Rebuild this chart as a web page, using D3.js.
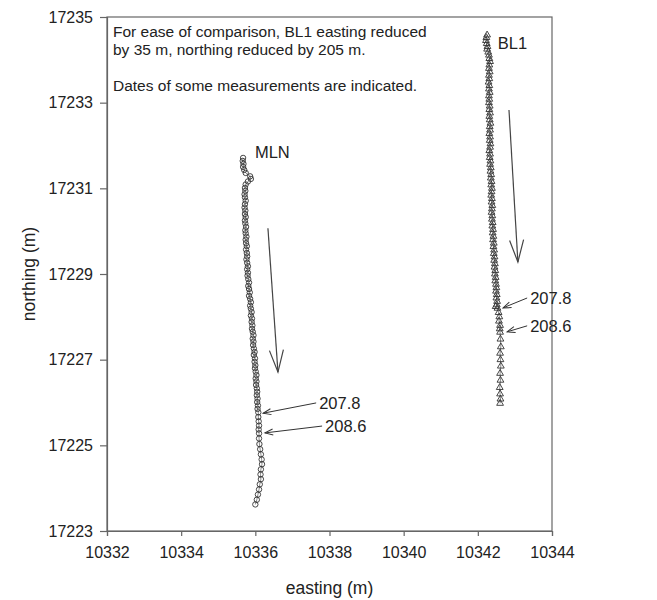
<!DOCTYPE html>
<html>
<head>
	<meta charset="utf-8">
	<title>MLN and BL1 track</title>
	<script src="https://cdn.jsdelivr.net/npm/d3@7"></script>
</head>
<body style="margin:0">
<style>

body { background: #fff; }

text {
  font-family: "Liberation Sans", Arial, sans-serif;
  fill: #222;
}

.axis path, .axis line {
  stroke: #666;
  stroke-width: 1.2px;
}

.axis text {
  font-size: 16px;
  fill: #222;
}

.frame {
  fill: none;
  stroke: #666;
  stroke-width: 1.2px;
}

.track {
  fill: none;
  stroke: #555;
  stroke-width: 0.7px;
}

.mark {
  fill: none;
  stroke: #333;
  stroke-width: 0.9px;
}

</style>
<svg width="657" height="600"></svg>
<script>

// easting / northing of each survey of MLN (m)
var mlnEasting = [
  10335.67, 10335.66, 10335.68, 10335.67, 10335.70, 10335.74, 10335.86, 10335.88, 10335.80, 10335.74,
  10335.72, 10335.73, 10335.71, 10335.72, 10335.74, 10335.72, 10335.71, 10335.73, 10335.72, 10335.74,
  10335.72, 10335.73, 10335.75, 10335.73, 10335.74, 10335.76, 10335.74, 10335.75, 10335.77, 10335.75,
  10335.77, 10335.78, 10335.76, 10335.78, 10335.80, 10335.78, 10335.80, 10335.79, 10335.81, 10335.83,
  10335.81, 10335.83, 10335.85, 10335.83, 10335.86, 10335.88, 10335.86, 10335.88, 10335.90, 10335.88,
  10335.91, 10335.90, 10335.92, 10335.91, 10335.93, 10335.95, 10335.93, 10335.95, 10335.94, 10335.96,
  10335.98, 10335.96, 10335.99, 10335.98, 10336.00, 10335.99, 10336.01, 10336.03, 10336.01, 10336.03,
  10336.02, 10336.04, 10336.05, 10336.04, 10336.06, 10336.05, 10336.07, 10336.06, 10336.08, 10336.08,
  10336.09, 10336.10, 10336.09, 10336.10, 10336.10, 10336.11, 10336.13, 10336.15, 10336.17, 10336.18,
  10336.15, 10336.14, 10336.15, 10336.12, 10336.10, 10336.07, 10336.04, 10336.00
];
var mlnNorthing = [
  17231.71, 17231.64, 17231.57, 17231.50, 17231.43, 17231.36, 17231.28, 17231.22, 17231.16, 17231.09,
  17231.01, 17230.94, 17230.86, 17230.79, 17230.71, 17230.63, 17230.55, 17230.48, 17230.40, 17230.33,
  17230.25, 17230.18, 17230.10, 17230.02, 17229.95, 17229.87, 17229.80, 17229.72, 17229.65, 17229.57,
  17229.49, 17229.41, 17229.34, 17229.26, 17229.18, 17229.11, 17229.03, 17228.96, 17228.88, 17228.80,
  17228.72, 17228.65, 17228.57, 17228.49, 17228.42, 17228.34, 17228.26, 17228.19, 17228.11, 17228.03,
  17227.96, 17227.88, 17227.80, 17227.72, 17227.65, 17227.57, 17227.49, 17227.42, 17227.34, 17227.26,
  17227.18, 17227.11, 17227.03, 17226.95, 17226.87, 17226.80, 17226.72, 17226.64, 17226.56, 17226.49,
  17226.41, 17226.33, 17226.25, 17226.17, 17226.09, 17226.01, 17225.93, 17225.85, 17225.77, 17225.66,
  17225.56, 17225.46, 17225.37, 17225.28, 17225.16, 17225.03, 17224.91, 17224.79, 17224.67, 17224.56,
  17224.44, 17224.32, 17224.21, 17224.09, 17223.97, 17223.85, 17223.73, 17223.62
];

// BL1, already shifted by -35 m easting and -205 m northing
var bl1Easting = [
  10342.25, 10342.23, 10342.22, 10342.24, 10342.26, 10342.25, 10342.28, 10342.30, 10342.31, 10342.33,
  10342.31, 10342.30, 10342.32, 10342.30, 10342.31, 10342.29, 10342.31, 10342.30, 10342.32, 10342.30,
  10342.31, 10342.30, 10342.32, 10342.31, 10342.33, 10342.31, 10342.32, 10342.34, 10342.32, 10342.33,
  10342.31, 10342.33, 10342.32, 10342.34, 10342.33, 10342.31, 10342.33, 10342.32, 10342.34, 10342.33,
  10342.35, 10342.34, 10342.36, 10342.35, 10342.37, 10342.36, 10342.38, 10342.37, 10342.36, 10342.38,
  10342.37, 10342.39, 10342.38, 10342.37, 10342.39, 10342.38, 10342.40, 10342.39, 10342.41, 10342.40,
  10342.42, 10342.41, 10342.43, 10342.42, 10342.44, 10342.43, 10342.45, 10342.44, 10342.46, 10342.45,
  10342.47, 10342.46, 10342.48, 10342.47, 10342.49, 10342.50, 10342.49, 10342.51, 10342.50, 10342.52,
  10342.51, 10342.48, 10342.53, 10342.56, 10342.58, 10342.57, 10342.60, 10342.59, 10342.60, 10342.61,
  10342.62, 10342.60, 10342.61, 10342.62, 10342.60, 10342.61, 10342.59, 10342.60, 10342.61, 10342.60
];
var bl1Northing = [
  17234.58, 17234.52, 17234.45, 17234.38, 17234.31, 17234.25, 17234.18, 17234.11, 17234.03, 17233.96,
  17233.88, 17233.80, 17233.72, 17233.64, 17233.56, 17233.48, 17233.40, 17233.32, 17233.24, 17233.16,
  17233.08, 17233.00, 17232.92, 17232.84, 17232.76, 17232.68, 17232.60, 17232.52, 17232.44, 17232.36,
  17232.28, 17232.20, 17232.12, 17232.04, 17231.96, 17231.88, 17231.80, 17231.72, 17231.64, 17231.56,
  17231.48, 17231.40, 17231.32, 17231.24, 17231.16, 17231.08, 17231.00, 17230.92, 17230.84, 17230.76,
  17230.68, 17230.60, 17230.52, 17230.44, 17230.36, 17230.28, 17230.20, 17230.12, 17230.04, 17229.96,
  17229.88, 17229.80, 17229.72, 17229.64, 17229.56, 17229.48, 17229.40, 17229.32, 17229.24, 17229.16,
  17229.08, 17229.00, 17228.92, 17228.84, 17228.76, 17228.68, 17228.60, 17228.52, 17228.44, 17228.36,
  17228.28, 17228.24, 17228.20, 17228.10, 17228.00, 17227.90, 17227.80, 17227.72, 17227.64, 17227.48,
  17227.30, 17227.15, 17227.00, 17226.85, 17226.68, 17226.52, 17226.35, 17226.20, 17226.08, 17225.98
];

var xTicks = [10332, 10334, 10336, 10338, 10340, 10342, 10344];
var yTicks = [17223, 17225, 17227, 17229, 17231, 17233, 17235];

// dated measurements: label, where the text sits, which point it marks
var dateLabels = ["207.8", "208.6", "207.8", "208.6"];
var dateTextE = [10337.64, 10337.80, 10343.33, 10343.33];
var dateTextN = [17225.99, 17225.45, 17228.44, 17227.79];
var dateTipE  = [10336.21, 10336.26, 10342.68, 10342.79];
var dateTipN  = [17225.75, 17225.29, 17228.21, 17227.65];

// direction-of-motion arrows (start easting, start northing, end easting, end northing)
var motionArrows = [
  [10336.34, 17230.07, 10336.61, 17226.71],
  [10342.84, 17232.83, 10343.08, 17229.28]
];

var siteNames = ["MLN", "BL1"];
var siteNameE = [10335.99, 10342.54];
var siteNameN = [17231.71, 17234.25];

var noteLines = [
  "For ease of comparison, BL1 easting reduced",
  "by 35 m, northing reduced by 205 m.",
  "Dates of some measurements are indicated."
];
var noteBaselines = [37, 55, 91];

var svg = d3.select("svg"),
	margin = {top: 17, right: 105, bottom: 69, left: 107},
	width = +svg.attr("width") - margin.left - margin.right,
	height = +svg.attr("height") - margin.top - margin.bottom;

var g = svg.append("g")
	.attr("transform", "translate(" + margin.left + "," + margin.top + ")");

var x = d3.scaleLinear().domain([10332, 10344]).range([0, width]);
var y = d3.scaleLinear().domain([17223, 17235]).range([height, 0]);

var defs = svg.append("defs");
defs.append("marker")
	.attr("id", "bigHead")
	.attr("markerUnits", "userSpaceOnUse")
	.attr("viewBox", "-24 -9 26 18")
	.attr("refX", 0).attr("refY", 0)
	.attr("markerWidth", 26).attr("markerHeight", 18)
	.attr("orient", "auto")
  .append("path")
	.attr("d", "M-22,-7L0,0L-22,7")
	.attr("fill", "none")
	.attr("stroke", "#444")
	.attr("stroke-width", 1.2);
defs.append("marker")
	.attr("id", "smallHead")
	.attr("markerUnits", "userSpaceOnUse")
	.attr("viewBox", "-10 -5 12 10")
	.attr("refX", 0).attr("refY", 0)
	.attr("markerWidth", 12).attr("markerHeight", 10)
	.attr("orient", "auto")
  .append("path")
	.attr("d", "M-8,-3L0,0L-8,3")
	.attr("fill", "none")
	.attr("stroke", "#333")
	.attr("stroke-width", 1);

// frame
g.append("rect")
	.attr("class", "frame")
	.attr("width", width)
	.attr("height", height);

g.append("g")
	.attr("class", "axis")
	.attr("transform", "translate(0," + height + ")")
	.call(d3.axisBottom(x).tickValues(xTicks).tickFormat(d3.format("d")).tickSizeOuter(0).tickSize(5).tickPadding(11));

g.append("g")
	.attr("class", "axis")
	.call(d3.axisLeft(y).tickValues(yTicks).tickFormat(d3.format("d")).tickSizeOuter(0).tickSize(7).tickPadding(7));

g.selectAll(".axis text").attr("fill", "#222");

svg.append("text")
	.attr("x", margin.left + width / 2)
	.attr("y", 594)
	.attr("text-anchor", "middle")
	.style("font-size", "17.5px")
	.text("easting (m)");

svg.append("text")
	.attr("transform", "translate(35," + (margin.top + height / 2) + ") rotate(-90)")
	.attr("text-anchor", "middle")
	.style("font-size", "17.5px")
	.text("northing (m)");

// tracks
var mln = mlnEasting.map(function(e, i) { return [e, mlnNorthing[i]]; });
var bl1 = bl1Easting.map(function(e, i) { return [e, bl1Northing[i]]; });

var line = d3.line()
	.x(function(d) { return x(d[0]); })
	.y(function(d) { return y(d[1]); });

g.append("path").attr("class", "track").attr("d", line(mln));
g.append("path").attr("class", "track").attr("d", line(bl1));

g.append("g").selectAll("circle")
	.data(mln)
	.enter().append("circle")
	  .attr("class", "mark")
	  .attr("r", 2.7)
	  .attr("cx", function(d) { return x(d[0]); })
	  .attr("cy", function(d) { return y(d[1]); });

var tri = d3.symbol().type(d3.symbolTriangle).size(20);
g.append("g").selectAll("path")
	.data(bl1)
	.enter().append("path")
	  .attr("class", "mark")
	  .attr("d", tri)
	  .attr("transform", function(d) { return "translate(" + x(d[0]) + "," + y(d[1]) + ")"; });

// motion arrows
g.append("g").selectAll("line")
	.data(motionArrows)
	.enter().append("line")
	  .attr("x1", function(d) { return x(d[0]); })
	  .attr("y1", function(d) { return y(d[1]); })
	  .attr("x2", function(d) { return x(d[2]); })
	  .attr("y2", function(d) { return y(d[3]); })
	  .attr("stroke", "#444")
	  .attr("stroke-width", 1.2)
	  .attr("marker-end", "url(#bigHead)");

// date pointers
dateLabels.forEach(function(lab, i) {
  g.append("line")
	.attr("x1", x(dateTextE[i]))
	.attr("y1", y(dateTextN[i]))
	.attr("x2", x(dateTipE[i]))
	.attr("y2", y(dateTipN[i]))
	.attr("stroke", "#333")
	.attr("stroke-width", 1)
	.attr("marker-end", "url(#smallHead)");
  g.append("text")
	.attr("x", x(dateTextE[i]) + 3)
	.attr("y", y(dateTextN[i]) + 6)
	.style("font-size", "16.5px")
	.text(lab);
});

// site names
siteNames.forEach(function(name, i) {
  g.append("text")
	.attr("x", x(siteNameE[i]))
	.attr("y", y(siteNameN[i]))
	.style("font-size", "16.5px")
	.text(name);
});

// note in the corner
noteLines.forEach(function(t, i) {
  svg.append("text")
	.attr("x", 113)
	.attr("y", noteBaselines[i])
	.style("font-size", "15.5px")
	.text(t);
});

</script>
</body>
</html>
